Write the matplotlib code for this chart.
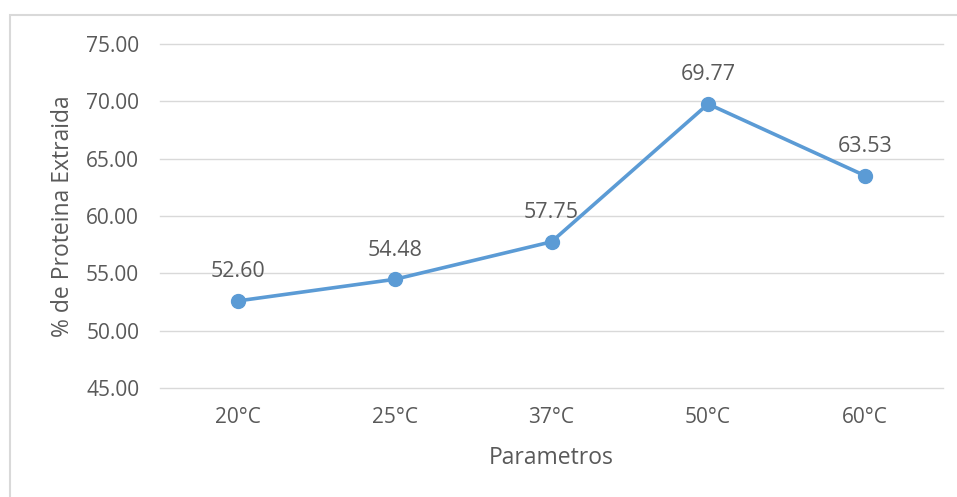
#!/usr/bin/env python3
"""Line chart of extracted protein percentage by extraction temperature."""

import matplotlib.pyplot as plt
from matplotlib.patches import Rectangle

temperatures = ["20°C", "25°C", "37°C", "50°C", "60°C"]
protein_pct = [52.60, 54.48, 57.75, 69.77, 63.53]
y_ticks = [45.0, 50.0, 55.0, 60.0, 65.0, 70.0, 75.0]

TEXT = "#595959"
GRID = "#d9d9d9"
LINE = "#5b9bd5"

plt.rcParams["font.family"] = ["Open Sans", "DejaVu Sans"]

fig = plt.figure(figsize=(9.57, 4.97), dpi=100)
fig.patch.set_facecolor("white")

# chart-area frame, open to the right and bottom edges
fig.add_artist(Rectangle((10 / 957, -0.05), 1.0, 1 - 15 / 497 + 0.05,
                         transform=fig.transFigure, fill=False,
                         edgecolor=GRID, linewidth=1.5, clip_on=False))

ax = fig.add_axes([160 / 957, 1 - 388 / 497, 783 / 957, (388 - 44) / 497])
x = list(range(len(temperatures)))
ax.plot(x, protein_pct, color=LINE, linewidth=2.6, marker="o",
        markersize=10, zorder=3, solid_capstyle="round")

for xi, val in zip(x, protein_pct):
    ax.annotate(f"{val:.2f}", (xi, val), xytext=(0, 17), textcoords="offset points",
                ha="center", va="baseline", fontsize=15.5, color=TEXT)

ax.set_xlim(-0.5, len(temperatures) - 0.5)
ax.set_ylim(45, 75)
ax.set_yticks(y_ticks)
ax.set_yticklabels([f"{t:.2f}" for t in y_ticks])
ax.set_xticks(x)
ax.set_xticklabels(temperatures)
ax.grid(axis="y", color=GRID, linewidth=1.0)
for line in ax.get_ygridlines():
    line.set_clip_on(False)
ax.set_axisbelow(True)
for spine in ax.spines.values():
    spine.set_visible(False)
ax.tick_params(axis="both", length=0, labelsize=15, labelcolor=TEXT)
ax.tick_params(axis="y", pad=15)
ax.tick_params(axis="x", pad=14)

ax.set_xlabel("Parametros", fontsize=16.5, color=TEXT, labelpad=13)
ax.set_ylabel("% de Proteina Extraida", fontsize=16.5, color=TEXT, labelpad=8)

fig.savefig("out.png", dpi=100, facecolor="white")
